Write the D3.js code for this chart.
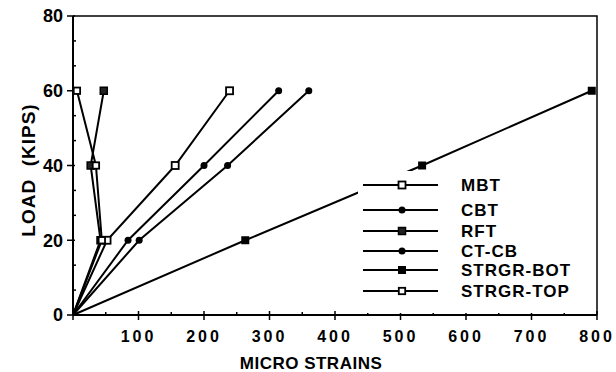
<!DOCTYPE html>
<html><head><meta charset="utf-8">
<script src="https://cdn.jsdelivr.net/npm/d3@7"></script>
<style>
body{margin:0;background:#fff;}
svg{display:block;font-family:"Liberation Sans",Arial,Helvetica,sans-serif;font-weight:bold;}
</style></head>
<body><svg id="c" width="616" height="372"></svg>
<script>
const loads = [0, 20, 40, 60];
const seriesNames = ["MBT", "CBT", "RFT", "CT-CB", "STRGR-BOT", "STRGR-TOP"];
const mbt = [0, 52, 156, 239];
const cbt = [0, 84, 200, 314];
const rft = [0, 42, 27, 47];
const ctcb = [0, 101, 236, 360];
const strgrBot = [0, 263, 533, 792];
const strgrTop = [0, 44, 35, 6];
const markerTypes = ["openSquare", "circle", "dotSquare", "circle", "filledSquare", "openSquareSmall"];
const xTickLabels = [100, 200, 300, 400, 500, 600, 700, 800];
const yTickLabels = [0, 20, 40, 60, 80];
const legendRowsY = [185, 210, 231, 251, 270, 291];

const allSeries = [mbt, cbt, rft, ctcb, strgrBot, strgrTop];

const svg = d3.select("#c");
const x = d3.scaleLinear().domain([0, 800]).range([73, 597]);
const y = d3.scaleLinear().domain([0, 80]).range([315, 16]);

// frame (top and right)
svg.append("path").attr("d", `M${x(0)},${y(80)}H${x(800)}V${y(0)}`)
  .attr("fill", "none").attr("stroke", "#000").attr("stroke-width", 1.5);

// x axis
const xMinor = d3.range(0, 17).map(i => i * 50);
const xAxis = svg.append("g").attr("transform", `translate(0,${y(0)})`);
xAxis.append("line").attr("x1", x(0)).attr("x2", x(800)).attr("stroke", "#000").attr("stroke-width", 2);
xAxis.selectAll("line.mn").data(xMinor).join("line").attr("class", "mn")
  .attr("x1", d => x(d)).attr("x2", d => x(d))
  .attr("y1", d => d % 100 === 0 ? 5 : 1).attr("y2", d => d % 100 === 0 ? -4 : -3)
  .attr("stroke", "#000").attr("stroke-width", 1.5);
xAxis.selectAll("text").data(xTickLabels).join("text")
  .attr("x", d => x(d)).attr("y", 27).attr("text-anchor", "middle")
  .attr("font-size", 16).attr("letter-spacing", 3).text(d => d);

// y axis
const yMinor = d3.range(0, 13).map(i => i * 20 / 3);
const yAxis = svg.append("g").attr("transform", `translate(${x(0)},0)`);
yAxis.append("line").attr("y1", y(0)).attr("y2", y(80)).attr("stroke", "#000").attr("stroke-width", 2);
yAxis.selectAll("line.mn").data(yMinor).join("line").attr("class", "mn")
  .attr("y1", d => y(d)).attr("y2", d => y(d))
  .attr("x1", (d, i) => i % 3 === 0 ? -6 : -1).attr("x2", (d, i) => i % 3 === 0 ? 2 : 3)
  .attr("stroke", "#000").attr("stroke-width", 1.5);
yAxis.selectAll("text").data(yTickLabels).join("text")
  .attr("x", -10).attr("y", d => y(d)).attr("dy", "0.36em").attr("text-anchor", "end")
  .attr("font-size", 18).text(d => d);

// axis titles
svg.append("text").attr("transform", `translate(35,170) rotate(-90)`)
  .attr("text-anchor", "middle").attr("font-size", 19).attr("letter-spacing", 1)
  .text("LOAD\u00A0\u00A0(KIPS)");
svg.append("text").attr("x", 311).attr("y", 369).attr("text-anchor", "middle")
  .attr("font-size", 17).attr("letter-spacing", 0.5).text("MICRO STRAINS");

const line = d3.line().x(d => x(d[0])).y(d => y(d[1]));

function drawMarker(g, type, cx, cy) {
  if (type === "circle") {
    g.append("circle").attr("cx", cx).attr("cy", cy).attr("r", 3.5).attr("fill", "#000");
  } else if (type === "filledSquare") {
    g.append("rect").attr("x", cx - 4).attr("y", cy - 4).attr("width", 8).attr("height", 8).attr("fill", "#000");
  } else if (type === "dotSquare") {
    g.append("rect").attr("x", cx - 3.5).attr("y", cy - 3.5).attr("width", 7).attr("height", 7)
      .attr("fill", "#222").attr("stroke", "#000").attr("stroke-width", 1.5);
  } else if (type === "openSquare") {
    g.append("rect").attr("x", cx - 3.5).attr("y", cy - 3.5).attr("width", 7).attr("height", 7)
      .attr("fill", "#fff").attr("stroke", "#000").attr("stroke-width", 1.8);
  } else {
    g.append("rect").attr("x", cx - 3.2).attr("y", cy - 3.2).attr("width", 6.4).attr("height", 6.4)
      .attr("fill", "#fff").attr("stroke", "#000").attr("stroke-width", 1.8);
  }
}

const plot = svg.append("g");
allSeries.forEach((s, i) => {
  const pts = s.map((v, j) => [v, loads[j]]);
  plot.append("path").attr("d", line(pts)).attr("fill", "none")
    .attr("stroke", "#000").attr("stroke-width", 2);
});
allSeries.forEach((s, i) => {
  s.forEach((v, j) => { if (j > 0) drawMarker(plot, markerTypes[i], x(v), y(loads[j])); });
});

// legend
const lg = svg.append("g");
lg.append("rect").attr("x", 358).attr("y", 171).attr("width", 237).attr("height", 142).attr("fill", "#fff");
seriesNames.forEach((n, i) => {
  const yy = legendRowsY[i];
  lg.append("line").attr("x1", 363).attr("x2", 438).attr("y1", yy).attr("y2", yy)
    .attr("stroke", "#000").attr("stroke-width", 2);
  drawMarker(lg, markerTypes[i], 402, yy);
  lg.append("text").attr("x", 461).attr("y", yy).attr("dy", "0.36em")
    .attr("font-size", 17).attr("letter-spacing", 1).text(n);
});
</script></body></html>
